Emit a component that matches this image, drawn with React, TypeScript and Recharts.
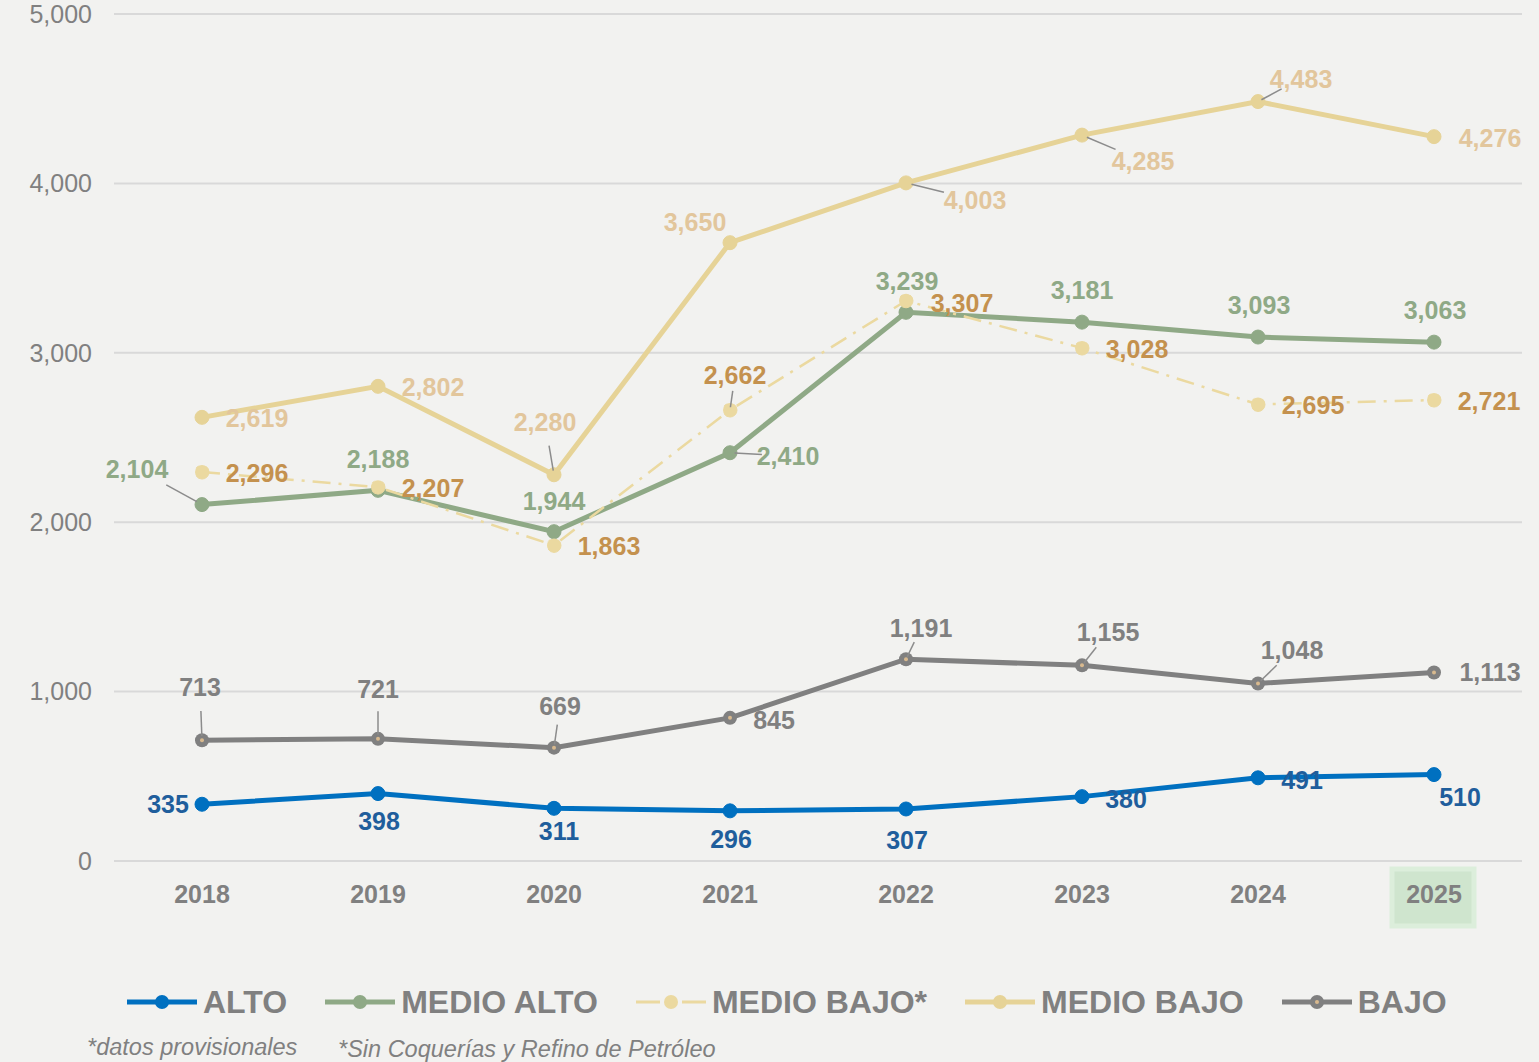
import { LineChart, Line, XAxis, YAxis, CartesianGrid, Legend } from 'recharts';

// Datos de la figura
const years = ['2018', '2019', '2020', '2021', '2022', '2023', '2024', '2025'];
const alto = [335, 398, 311, 296, 307, 380, 491, 510];
const medioAlto = [2104, 2188, 1944, 2410, 3239, 3181, 3093, 3063];
const medioBajoProv = [2296, 2207, 1863, 2662, 3307, 3028, 2695, 2721];
const medioBajo = [2619, 2802, 2280, 3650, 4003, 4285, 4483, 4276];
const bajo = [713, 721, 669, 845, 1191, 1155, 1048, 1113];
const yTicks = [0, 1000, 2000, 3000, 4000, 5000];

const chartData = years.map((year, i) => ({
  year,
  alto: alto[i],
  medioAlto: medioAlto[i],
  medioBajoProv: medioBajoProv[i],
  medioBajo: medioBajo[i],
  bajo: bajo[i],
}));

// colocación de etiquetas (desplazamiento respecto al punto) y si llevan línea guía
const labelOffsets: Record<string, [number, number, boolean][]> = {
  alto: [[-34, 0, false], [1, 27, false], [5, 23, false], [1, 28, false], [1, 31, false], [44, 2, false], [44, 2, false], [26, 22, false]],
  bajo: [[-2, -53, true], [0, -50, true], [6, -42, true], [44, 2, false], [15, -31, true], [26, -33, true], [34, -33, true], [56, 0, false]],
  medioAlto: [[-65, -36, true], [0, -31, false], [0, -31, false], [58, 3, true], [1, -31, false], [0, -32, false], [1, -32, false], [1, -32, false]],
  medioBajoProv: [[55, 1, false], [55, 1, false], [55, 1, false], [5, -35, true], [56, 2, false], [55, 1, false], [55, 1, false], [55, 1, false]],
  medioBajo: [[55, 1, false], [55, 1, false], [-9, -53, true], [-35, -21, false], [69, 17, true], [61, 26, true], [43, -23, true], [56, 1, false]],
};

const C = {
  bg: '#F2F2F0',
  grid: '#D9D9D9',
  axis: '#808080',
  alto: '#0070C0',
  altoLabel: '#1F5E9C',
  medioAlto: '#8FA986',
  medioBajoProv: '#EBD9A0',
  medioBajoProvLabel: '#C4914E',
  medioBajo: '#E6D397',
  medioBajoLabel: '#E2C69C',
  bajo: '#808080',
};

const makeLabel = (key: string, color: string) => (props: any) => {
  const { x, y, value, index } = props;
  const [dx, dy, leader] = labelOffsets[key][index];
  return (
    <g key={`${key}-lbl-${index}`}>
      {leader && (
        <line
          x1={x + dx * 0.08}
          y1={y + dy * 0.08}
          x2={x + dx * 0.55}
          y2={y + dy * 0.55}
          stroke="#8C8C8C"
          strokeWidth={1.5}
        />
      )}
      <text
        x={x + dx}
        y={y + dy}
        textAnchor="middle"
        dominantBaseline="central"
        fill={color}
        fontSize={25}
        fontWeight="bold"
        fontFamily="'Liberation Sans', Arial, sans-serif"
      >
        {Number(value).toLocaleString('en-US')}
      </text>
    </g>
  );
};

const BajoDot = (props: any) => {
  const { cx, cy, index } = props;
  return (
    <g key={`bajo-dot-${index}`}>
      <circle cx={cx} cy={cy} r={7} fill={C.bajo} />
      <circle cx={cx} cy={cy} r={2} fill="#D8B98E" />
    </g>
  );
};

const YearTick = (props: any) => {
  const { x, y, payload } = props;
  const last = payload.value === '2025';
  return (
    <g>
      {last && <rect x={x - 42} y={y} width={82} height={57} fill="#CFE5CE" stroke="#DCEEDB" strokeWidth={5} />}
      <text
        x={x}
        y={y + 25}
        textAnchor="middle"
        dominantBaseline="central"
        fill={C.axis}
        fontSize={25}
        fontWeight="bold"
        fontFamily="'Liberation Sans', Arial, sans-serif"
      >
        {payload.value}
      </text>
    </g>
  );
};

const legendItems = [
  { name: 'ALTO', color: C.alto, dashed: false, ring: false },
  { name: 'MEDIO ALTO', color: C.medioAlto, dashed: false, ring: false },
  { name: 'MEDIO BAJO*', color: C.medioBajoProv, dashed: true, ring: false },
  { name: 'MEDIO BAJO', color: C.medioBajo, dashed: false, ring: false },
  { name: 'BAJO', color: C.bajo, dashed: false, ring: true },
];

const LegendContent = () => (
  <div style={{ display: 'flex', alignItems: 'center', gap: 38, paddingLeft: 127 }}>
    {legendItems.map((it) => (
      <div key={it.name} style={{ display: 'flex', alignItems: 'center', gap: 6 }}>
        <svg width={70} height={20}>
          {it.dashed ? (
            <>
              <line x1={0} y1={10} x2={24} y2={10} stroke={it.color} strokeWidth={3} />
              <line x1={46} y1={10} x2={70} y2={10} stroke={it.color} strokeWidth={3} />
            </>
          ) : (
            <line x1={0} y1={10} x2={70} y2={10} stroke={it.color} strokeWidth={5} />
          )}
          <circle cx={35} cy={10} r={7} fill={it.color} />
          {it.ring && <circle cx={35} cy={10} r={2} fill="#D8B98E" />}
        </svg>
        <span
          style={{
            color: C.axis,
            fontSize: 32,
            fontWeight: 'bold',
            fontFamily: "'Liberation Sans', Arial, sans-serif",
            lineHeight: '36px',
          }}
        >
          {it.name}
        </span>
      </div>
    ))}
  </div>
);

const noteStyle = {
  position: 'absolute' as const,
  color: C.axis,
  fontStyle: 'italic',
  fontSize: 23.5,
  fontFamily: "'Liberation Sans', Arial, sans-serif",
};

const App = () => {
  return (
    <div style={{ position: 'relative', width: 1539, height: 1062, background: C.bg, overflow: 'hidden' }}>
      <style>{'body{margin:0;}'}</style>
      <LineChart width={1539} height={1062} data={chartData} margin={{ top: 14, right: 17, bottom: 105, left: 0 }}>
        <CartesianGrid vertical={false} stroke={C.grid} strokeWidth={2} />
        <XAxis
          dataKey="year"
          axisLine={false}
          tickLine={false}
          height={60}
          padding={{ left: 88, right: 88 }}
          tick={<YearTick />}
          interval={0}
        />
        <YAxis
          width={114}
          domain={[0, 5000]}
          ticks={yTicks}
          axisLine={false}
          tickLine={false}
          tickMargin={16}
          tickFormatter={(v: number) => v.toLocaleString('en-US')}
          tick={{ fill: C.axis, fontSize: 25, fontFamily: "'Liberation Sans', Arial, sans-serif" }}
        />
        <Legend
          content={<LegendContent />}
          wrapperStyle={{ position: 'absolute', top: 984, left: 0, width: 1539 }}
        />
        <Line
          dataKey="bajo"
          stroke={C.bajo}
          strokeWidth={5}
          dot={<BajoDot />}
          label={makeLabel('bajo', C.bajo)}
          isAnimationActive={false}
        />
        <Line
          dataKey="alto"
          stroke={C.alto}
          strokeWidth={5}
          dot={{ r: 7, fill: C.alto, stroke: C.alto, strokeWidth: 1 }}
          label={makeLabel('alto', C.altoLabel)}
          isAnimationActive={false}
        />
        <Line
          dataKey="medioAlto"
          stroke={C.medioAlto}
          strokeWidth={5}
          dot={{ r: 7, fill: C.medioAlto, stroke: C.medioAlto, strokeWidth: 1 }}
          label={makeLabel('medioAlto', C.medioAlto)}
          isAnimationActive={false}
        />
        <Line
          dataKey="medioBajo"
          stroke={C.medioBajo}
          strokeWidth={5}
          dot={{ r: 7, fill: C.medioBajo, stroke: C.medioBajo, strokeWidth: 1 }}
          label={makeLabel('medioBajo', C.medioBajoLabel)}
          isAnimationActive={false}
        />
        <Line
          dataKey="medioBajoProv"
          stroke={C.medioBajoProv}
          strokeWidth={2.5}
          strokeDasharray="18 8 3 8"
          dot={{ r: 7, fill: C.medioBajoProv, stroke: C.medioBajoProv, strokeWidth: 1 }}
          label={makeLabel('medioBajoProv', C.medioBajoProvLabel)}
          isAnimationActive={false}
        />
      </LineChart>
      <div style={{ ...noteStyle, left: 87, top: 1034 }}>*datos provisionales</div>
      <div style={{ ...noteStyle, left: 338, top: 1036 }}>*Sin Coquerías y Refino de Petróleo</div>
    </div>
  );
};

export default App;
